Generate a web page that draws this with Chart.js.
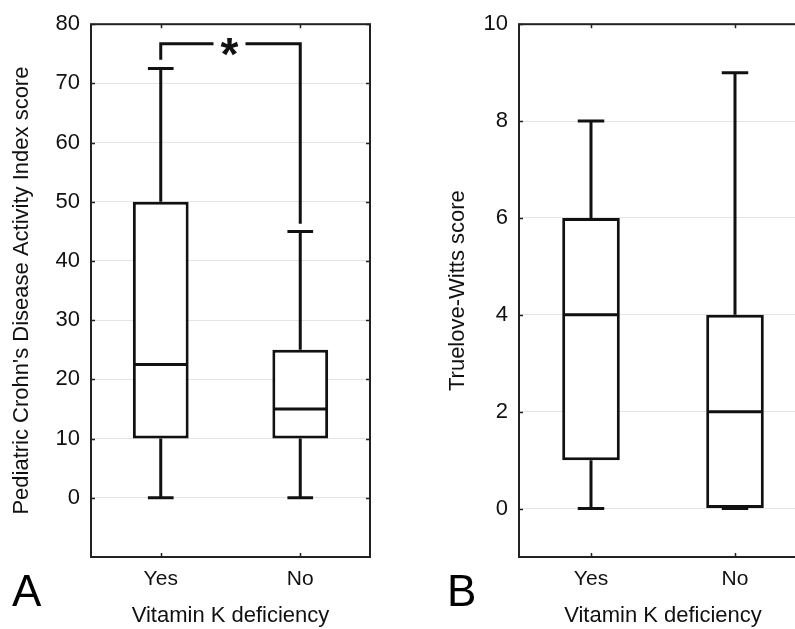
<!DOCTYPE html>
<html>
<head>
<meta charset="utf-8">
<title>Vitamin K deficiency box plots</title>
<script src="https://cdn.jsdelivr.net/npm/chart.js@4.4.0/dist/chart.umd.min.js"></script>
<style>
  html, body { margin: 0; padding: 0; background: #fff; overflow: hidden; }
  #wrap { position: relative; width: 795px; height: 629px; overflow: hidden; }
  #panelA { position: absolute; left: 0; top: 0; }
  #panelB { position: absolute; left: 400px; top: 0; }
</style>
</head>
<body>
<div id="wrap">
  <canvas id="panelA" width="400" height="629"></canvas>
  <canvas id="panelB" width="420" height="629"></canvas>
</div>
<script>
const categories = ['Yes', 'No'];

// A: Pediatric Crohn's Disease Activity Index
const pcdaiMin = [0, 0];
const pcdaiQ1 = [10, 10];
const pcdaiMedian = [22.5, 15];
const pcdaiQ3 = [50, 25];
const pcdaiMax = [72.5, 45];
const pcdaiTicks = [0, 10, 20, 30, 40, 50, 60, 70, 80];
// bracket level, end of left leg, end of right leg
const sigBracket = [76.7, 74, 46.3];

// B: Truelove-Witts
const twMin = [0, 0];
const twQ1 = [1, 0];
const twMedian = [4, 2];
const twQ3 = [6, 4];
const twMax = [8, 9];
const twTicks = [0, 2, 4, 6, 8, 10];

const FONT = '"Liberation Sans", Arial, sans-serif';
const INK = '#111';

// whiskers, caps and median lines on top of the floating-bar boxes
const boxPlot = {
  id: 'boxPlot',
  afterDatasetsDraw(chart, args, opts) {
    const { ctx, scales: { x, y } } = chart;
    const meta = chart.getDatasetMeta(0);
    ctx.save();
    ctx.strokeStyle = INK;
    ctx.lineWidth = 3;
    opts.median.forEach((m, i) => {
      const bar = meta.data[i];
      const cx = x.getPixelForValue(i);
      const half = bar.width / 2;
      const capHalf = bar.width * 0.23;
      const yMin = y.getPixelForValue(opts.min[i]);
      const yQ1 = y.getPixelForValue(opts.q1[i]);
      const yQ3 = y.getPixelForValue(opts.q3[i]);
      const yMax = y.getPixelForValue(opts.max[i]);
      const yMed = y.getPixelForValue(m);
      ctx.beginPath();
      // upper whisker
      ctx.moveTo(cx, yQ3); ctx.lineTo(cx, yMax);
      ctx.moveTo(cx - capHalf, yMax); ctx.lineTo(cx + capHalf, yMax);
      // lower whisker
      ctx.moveTo(cx, yQ1); ctx.lineTo(cx, yMin);
      ctx.moveTo(cx - capHalf, yMin); ctx.lineTo(cx + capHalf, yMin);
      // median
      ctx.moveTo(cx - half + 1, yMed); ctx.lineTo(cx + half - 1, yMed);
      ctx.stroke();
    });
    ctx.restore();
  }
};

// closed frame with small inward tick marks
const frame = {
  id: 'frame',
  afterDraw(chart) {
    const { ctx, chartArea: a, scales: { x, y } } = chart;
    ctx.save();
    ctx.strokeStyle = '#222';
    ctx.lineWidth = 2;
    ctx.strokeRect(a.left, a.top, a.right - a.left, a.bottom - a.top);
    ctx.beginPath();
    y.ticks.forEach(t => {
      const py = Math.round(y.getPixelForValue(t.value)) + 0.5;
      ctx.moveTo(a.left, py); ctx.lineTo(a.left + 4, py);
      ctx.moveTo(a.right, py); ctx.lineTo(a.right - 4, py);
    });
    categories.forEach((c, i) => {
      const px = Math.round(x.getPixelForValue(i)) + 0.5;
      ctx.moveTo(px, a.top); ctx.lineTo(px, a.top + 4);
      ctx.moveTo(px, a.bottom); ctx.lineTo(px, a.bottom - 4);
    });
    ctx.lineWidth = 1.5;
    ctx.stroke();
    ctx.restore();
  }
};

const panelLabel = {
  id: 'panelLabel',
  afterDraw(chart, args, opts) {
    const { ctx } = chart;
    ctx.save();
    ctx.fillStyle = '#000';
    ctx.font = '44px ' + FONT;
    ctx.textBaseline = 'alphabetic';
    ctx.fillText(opts.text, opts.x, 606);
    ctx.restore();
  }
};

const bracket = {
  id: 'bracket',
  afterDatasetsDraw(chart, args, opts) {
    if (!opts.values) return;
    const { ctx, scales: { x, y } } = chart;
    const [level, leftEnd, rightEnd] = opts.values;
    const x0 = x.getPixelForValue(0);
    const x1 = x.getPixelForValue(1);
    const yl = y.getPixelForValue(level);
    const mid = (x0 + x1) / 2 - 1;
    ctx.save();
    ctx.strokeStyle = INK;
    ctx.lineWidth = 3;
    ctx.beginPath();
    ctx.moveTo(x0, y.getPixelForValue(leftEnd));
    ctx.lineTo(x0, yl);
    ctx.lineTo(mid - 16, yl);
    ctx.moveTo(mid + 16, yl);
    ctx.lineTo(x1, yl);
    ctx.lineTo(x1, y.getPixelForValue(rightEnd));
    ctx.stroke();
    ctx.fillStyle = INK;
    ctx.font = 'bold 46px ' + FONT;
    ctx.textAlign = 'center';
    ctx.textBaseline = 'alphabetic';
    ctx.fillText('*', mid, yl + 26);
    ctx.restore();
  }
};

function makeChart(id, cfg) {
  return new Chart(document.getElementById(id), {
    type: 'bar',
    data: {
      labels: categories,
      datasets: [{
        data: cfg.q1.map((v, i) => [v, cfg.q3[i]]),
        backgroundColor: '#fff',
        borderColor: INK,
        borderWidth: 3,
        borderSkipped: false,
        barPercentage: 0.4,
        categoryPercentage: 1,
      }]
    },
    options: {
      responsive: false,
      animation: false,
      events: [],
      layout: { padding: { left: 0, top: 22, right: cfg.padRight, bottom: 0 } },
      plugins: {
        legend: { display: false },
        tooltip: { enabled: false },
        boxPlot: { min: cfg.min, q1: cfg.q1, median: cfg.median, q3: cfg.q3, max: cfg.max },
        panelLabel: { text: cfg.letter, x: cfg.letterX },
        bracket: { values: cfg.bracket },
      },
      scales: {
        x: {
          offset: true,
          grid: { display: false, drawTicks: false },
          border: { display: false },
          ticks: { color: INK, font: { family: FONT, size: 21 }, padding: 10 },
          title: {
            display: true, text: 'Vitamin K deficiency', color: INK,
            font: { family: FONT, size: 22 }, padding: { top: 0, bottom: 0 }
          },
          afterFit: s => { s.height = 72; }
        },
        y: {
          min: cfg.yMin,
          max: cfg.yMax,
          afterBuildTicks: s => { s.ticks = cfg.ticks.map(v => ({ value: v })); },
          grid: { color: '#e4e4e4', drawTicks: false },
          border: { display: false },
          ticks: { color: INK, font: { family: FONT, size: 22 }, padding: 11 },
          title: {
            display: true, text: cfg.yTitle, color: INK,
            font: { family: FONT, size: 22 }, padding: { top: cfg.titlePad, bottom: 0 }
          },
          afterFit: s => { s.width = cfg.yWidth; }
        }
      }
    },
    plugins: [boxPlot, bracket, frame, panelLabel]
  });
}

makeChart('panelA', {
  min: pcdaiMin, q1: pcdaiQ1, median: pcdaiMedian, q3: pcdaiQ3, max: pcdaiMax,
  ticks: pcdaiTicks, yMin: -10, yMax: 80,
  yTitle: "Pediatric Crohn's Disease Activity Index score",
  yWidth: 91, padRight: 30, titlePad: 9,
  letter: 'A', letterX: 12, bracket: sigBracket
});

makeChart('panelB', {
  min: twMin, q1: twQ1, median: twMedian, q3: twQ3, max: twMax,
  ticks: twTicks, yMin: -1, yMax: 10,
  yTitle: 'Truelove-Witts score',
  yWidth: 119, padRight: 13, titlePad: 45,
  letter: 'B', letterX: 47, bracket: null
});
</script>
</body>
</html>
